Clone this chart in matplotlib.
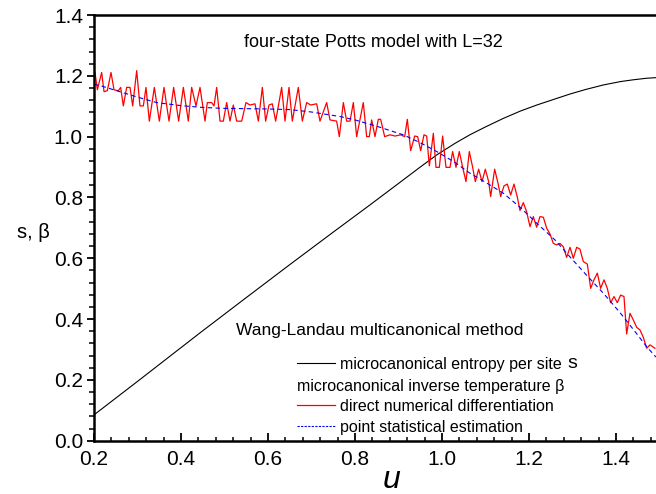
import matplotlib
matplotlib.use("Agg")
import matplotlib.pyplot as plt
from matplotlib.lines import Line2D
from matplotlib.ticker import MultipleLocator, FormatStrFormatter

plt.rcParams['font.family'] = ['Liberation Sans', 'DejaVu Sans']

#%% data
# microcanonical entropy per site s(u)
s_u = [0.2, 0.3, 0.363, 0.444, 0.543, 0.65, 0.75, 0.834, 0.9, 0.95, 0.988, 1.03,
       1.064, 1.1, 1.141, 1.18, 1.218, 1.26, 1.294, 1.33, 1.371, 1.41, 1.44, 1.47, 1.492]
s_val = [0.085, 0.195, 0.265, 0.355, 0.463, 0.579, 0.686, 0.775, 0.846, 0.900, 0.940, 0.978,
         1.006, 1.032, 1.060, 1.084, 1.104, 1.124, 1.140, 1.155, 1.170, 1.181, 1.187, 1.192, 1.194]

# beta, direct numerical differentiation (turning points of the red curve)
red_u = [0.2023, 0.2077, 0.2176, 0.2230, 0.2306, 0.2391, 0.2460, 0.2559, 0.2613, 0.2674,
         0.2751, 0.2828, 0.2889, 0.2981, 0.3057, 0.3134, 0.3195, 0.3272, 0.3387, 0.3502,
         0.3609, 0.3724, 0.3831, 0.3946, 0.4054, 0.4168, 0.4245, 0.4345, 0.4437, 0.4552,
         0.4605, 0.4705, 0.4759, 0.4820, 0.4897, 0.4973, 0.5050, 0.5126, 0.5203, 0.5280,
         0.5395, 0.5494, 0.5586, 0.5701, 0.5778, 0.5870, 0.5946, 0.6023, 0.6099, 0.6176,
         0.6314, 0.6391, 0.6483, 0.6559, 0.6697, 0.6789, 0.6889, 0.6981, 0.7119, 0.7195,
         0.7349, 0.7425, 0.7578, 0.7640, 0.7732, 0.7808, 0.7885, 0.7962, 0.8038, 0.8191,
         0.8268, 0.8329, 0.8383, 0.8460, 0.8536, 0.8590, 0.8682, 0.8805, 0.8920, 0.9050,
         0.9142, 0.9203, 0.9280, 0.9372, 0.9441, 0.9510, 0.9586, 0.9648, 0.9709, 0.9801,
         0.9862, 0.9939, 1.0015, 1.0092, 1.0184, 1.0245, 1.0322, 1.0398, 1.0475, 1.0552,
         1.0628, 1.0705, 1.0766, 1.0843, 1.0920, 1.0996, 1.1073, 1.1119, 1.1211, 1.1287,
         1.1349, 1.1425, 1.1502, 1.1579, 1.1655, 1.1732, 1.1793, 1.1870, 1.1946, 1.2023,
         1.2100, 1.2176, 1.2253, 1.2330, 1.2406, 1.2483, 1.2559, 1.2636, 1.2713, 1.2789,
         1.2866, 1.2943, 1.3019, 1.3096, 1.3172, 1.3249, 1.3341, 1.3418, 1.3494, 1.3571,
         1.3647, 1.3724, 1.3801, 1.3877, 1.3954, 1.4031, 1.4107, 1.4184, 1.4245, 1.4322,
         1.4399, 1.4475, 1.4552, 1.4629, 1.4705, 1.4782, 1.4897]
red_v = [1.211, 1.154, 1.211, 1.148, 1.151, 1.211, 1.154, 1.151, 1.162, 1.101,
         1.162, 1.162, 1.101, 1.217, 1.101, 1.101, 1.162, 1.051, 1.162, 1.051,
         1.162, 1.051, 1.162, 1.051, 1.162, 1.051, 1.162, 1.101, 1.162, 1.051,
         1.112, 1.112, 1.101, 1.162, 1.051, 1.051, 1.112, 1.051, 1.104, 1.051,
         1.051, 1.112, 1.104, 1.108, 1.051, 1.162, 1.051, 1.104, 1.108, 1.051,
         1.162, 1.051, 1.162, 1.051, 1.162, 1.051, 1.112, 1.104, 1.108, 1.051,
         1.112, 1.055, 1.051, 1.000, 1.112, 1.051, 1.051, 1.112, 1.000, 1.112,
         1.000, 1.000, 1.055, 1.000, 1.057, 1.057, 1.000, 1.006, 1.002, 1.006,
         1.000, 1.057, 0.954, 1.002, 1.000, 0.954, 1.006, 1.002, 0.904, 1.011,
         0.899, 0.899, 1.002, 0.899, 0.899, 0.951, 0.899, 0.951, 0.899, 0.852,
         0.951, 0.899, 0.852, 0.893, 0.852, 0.893, 0.852, 0.803, 0.893, 0.847,
         0.803, 0.838, 0.844, 0.808, 0.844, 0.801, 0.757, 0.783, 0.753, 0.704,
         0.737, 0.702, 0.737, 0.735, 0.699, 0.680, 0.649, 0.644, 0.649, 0.638,
         0.603, 0.636, 0.600, 0.636, 0.630, 0.589, 0.581, 0.501, 0.529, 0.551,
         0.501, 0.529, 0.501, 0.454, 0.474, 0.454, 0.479, 0.474, 0.351, 0.419,
         0.397, 0.373, 0.364, 0.340, 0.304, 0.315, 0.304]

# beta, point statistical estimation
blue_u = [0.2, 0.214, 0.25, 0.3, 0.344, 0.4, 0.45, 0.497, 0.55, 0.6, 0.65, 0.7, 0.766,
          0.8, 0.857, 0.911, 0.95, 0.988, 1.03, 1.064, 1.1, 1.141, 1.18, 1.218, 1.26,
          1.294, 1.33, 1.371, 1.41, 1.447, 1.47, 1.492]
blue_v = [1.172, 1.168, 1.152, 1.130, 1.112, 1.102, 1.096, 1.093, 1.092, 1.091, 1.089,
          1.081, 1.066, 1.055, 1.031, 1.006, 0.980, 0.951, 0.915, 0.880, 0.850, 0.814,
          0.767, 0.715, 0.660, 0.605, 0.548, 0.485, 0.420, 0.353, 0.310, 0.275]

#%% figure
fig = plt.figure(figsize=(6.56, 4.94), dpi=100)
ax = fig.add_axes([0.1433, 0.1079, 0.8567, 0.8617])

ax.plot(s_u, s_val, color='black', lw=0.8)
ax.plot(red_u, red_v, color='red', lw=0.9)
ax.plot(blue_u, blue_v, color='blue', lw=0.8, ls=(0, (4, 3)))

ax.set_xlim(0.2, 1.492)
ax.set_ylim(0.0, 1.4)
ax.xaxis.set_major_locator(MultipleLocator(0.2))
ax.xaxis.set_minor_locator(MultipleLocator(0.04))
ax.yaxis.set_major_locator(MultipleLocator(0.2))
ax.yaxis.set_minor_locator(MultipleLocator(0.04))
ax.xaxis.set_major_formatter(FormatStrFormatter('%.1f'))
ax.yaxis.set_major_formatter(FormatStrFormatter('%.1f'))

for sp in ['left', 'bottom', 'top']:
    ax.spines[sp].set_linewidth(1.8)
ax.spines['right'].set_visible(False)

ax.tick_params(axis='x', which='major', direction='in', length=6, width=1.3,
               labelsize=15, pad=7, top=False)
ax.tick_params(axis='x', which='minor', direction='in', length=3.2, width=1.1, top=False)
ax.tick_params(axis='y', which='major', direction='out', length=5, width=1.3,
               labelsize=15, pad=3)
ax.tick_params(axis='y', which='minor', direction='out', length=3.5, width=1.1)

ax.set_xlabel('u', fontsize=23, style='italic')
ax.xaxis.set_label_coords(0.53, -0.092)
ax.xaxis.label.set_va('center')
ax.set_ylabel('s, β', fontsize=14.5, rotation=0)
ax.yaxis.set_label_coords(-0.107, 0.488)
ax.yaxis.label.set_va('center')

ax.text(0.8425, 1.311, 'four-state Potts model with L=32', fontsize=13,
        ha='center', va='center')
ax.text(0.5264, 0.348, 'Wang-Landau multicanonical method', fontsize=12.5,
        ha='left', va='baseline')

handles = [Line2D([], [], color='black', lw=0.8),
           Line2D([], [], color='none'),
           Line2D([], [], color='red', lw=0.9),
           Line2D([], [], color='blue', lw=0.8, ls=(0, (2, 1.2)))]
labels = ['microcanonical entropy per site', '',
          'direct numerical differentiation', 'point statistical estimation']
ax.legend(handles, labels, loc='upper left', bbox_to_anchor=(0.361, 0.197),
          frameon=False, fontsize=11.5, handlelength=2.4, handletextpad=0.3,
          labelspacing=0.37, borderpad=0, borderaxespad=0)
ax.text(1.2874, 0.238, 's', fontsize=14, ha='left', va='baseline')
ax.text(0.6667, 0.1645, 'microcanonical inverse temperature β', fontsize=11.5,
        ha='left', va='baseline')

fig.savefig('out.png', dpi=100)
